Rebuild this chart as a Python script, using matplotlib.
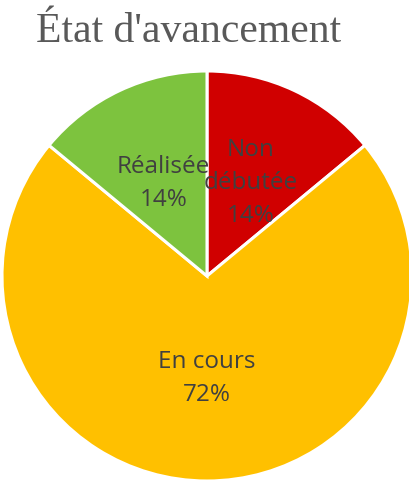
import matplotlib.pyplot as plt

# data
categories = ["Non\ndébutée", "En cours", "Réalisée"]
values = [14, 72, 14]
colors = ["#D00000", "#FFC000", "#7DC33E"]

fig = plt.figure(figsize=(4.10, 4.83), dpi=100)
ax = fig.add_axes([2 / 410, 2 / 483, 410 / 410, 410 / 483])

labels = [f"{c}\n{v}%" for c, v in zip(categories, values)]
wedges, texts = ax.pie(values, labels=labels, colors=colors, startangle=90,
                       counterclock=False, labeldistance=0.5, radius=1,
                       wedgeprops=dict(edgecolor="white", linewidth=2.2))
for t in texts:
    t.set_horizontalalignment("center")
    t.set_verticalalignment("center")
    t.set_multialignment("center")
    t.set_color("#404040")
    t.set_fontfamily("Open Sans")
    t.set_fontsize(17.5)
    t.set_linespacing(1.5)

ax.set_xlim(-1, 1)
ax.set_ylim(-1, 1)
ax.set_aspect("equal")
ax.axis("off")

fig.text(189 / 410, 1 - 42 / 483, "État d'avancement", ha="center", va="baseline",
         fontfamily="Liberation Serif", fontsize=30, color="#595959")

fig.savefig("out.png", dpi=100)
